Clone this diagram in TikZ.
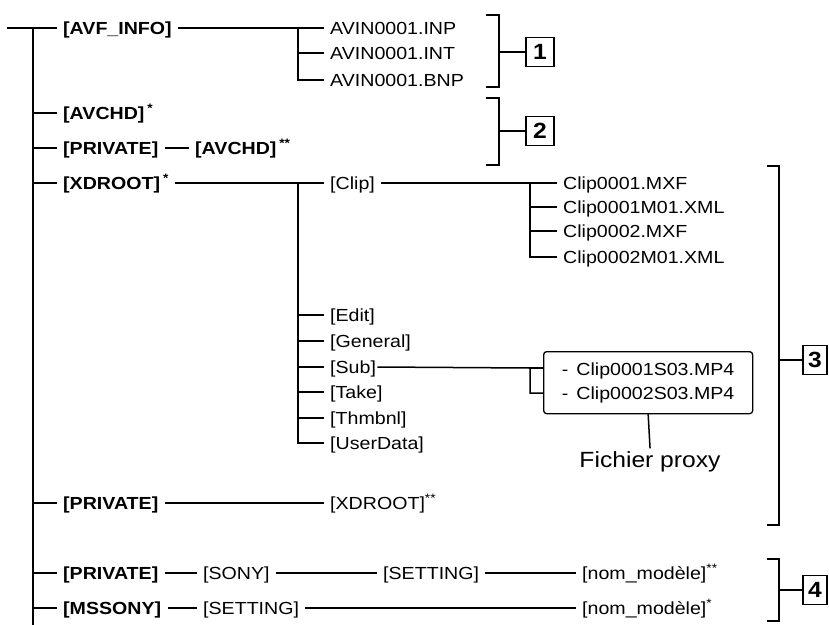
\documentclass[tikz,border=0pt]{standalone}
\usepackage{fontspec}
\setmainfont{Liberation Sans}[FakeStretch=1.12]
\usepackage{tikz}
\usetikzlibrary{positioning, calc}

\tikzset{
  tree/.style={line width=1.5pt, line cap=rect},
  dirb/.style={font=\bfseries\fontsize{17.5}{20}\selectfont, anchor=west,
    inner xsep=7pt, inner ysep=0pt, text height=12pt, text depth=0pt},
  dirn/.style={dirb, font=\fontsize{17.5}{20}\selectfont},
  numbox/.style={draw, line width=1.5pt, inner sep=0pt, minimum height=29pt,
    minimum width=28pt, font=\bfseries\fontsize{22}{22}\selectfont},
  bracket/.style={line width=1.5pt},
}

\begin{document}
\begin{tikzpicture}[x=1pt, y=-1pt]
  \useasboundingbox (0,0) rectangle (829,624);

  % trunk
  \coordinate (top) at (8,28);
  \coordinate (trunkTop) at (33,28);
  \coordinate (trunkBot) at (33,626);

  \node[dirb] (avf) at (56,28) {[AVF\_INFO]};
  \node[dirb] (avchd) at (56,113) {[AVCHD]\,\textsuperscript{*}};
  \node[dirb] (priv1) at (56,148) {[PRIVATE]};
  \node[dirb] (avchd2) at (188,148) {[AVCHD]\,\textsuperscript{**}};
  \node[dirb] (xdroot) at (56,183) {[XDROOT]\,\textsuperscript{*}};
  \node[dirb] (priv2) at (56,503) {[PRIVATE]};
  \node[dirn] (xdroot2) at (323,503) {[XDROOT]\textsuperscript{**}};
  \node[dirb] (priv3) at (56,573) {[PRIVATE]};
  \node[dirn] (sony) at (196,573) {[SONY]};
  \node[dirn] (set1) at (376,573) {[SETTING]};
  \node[dirn] (model1) at (575,573) {[nom\_modèle]\textsuperscript{**}};
  \node[dirb] (mssony) at (56,608) {[MSSONY]};
  \node[dirn] (set2) at (196,608) {[SETTING]};
  \node[dirn] (model2) at (575,608) {[nom\_modèle]\textsuperscript{*}};

  \draw[tree] (top) -- (avf.west);
  \draw[tree] (trunkTop) -- (trunkBot);
  \foreach \n in {avchd, priv1, xdroot, priv2, priv3, mssony}
    \draw[tree] (\n.west -| trunkTop) -- (\n.west);
  \draw[tree] (priv1) -- (avchd2);
  \draw[tree] (priv2) -- (xdroot2);
  \draw[tree] (priv3) -- (sony);
  \draw[tree] (sony) -- (set1);
  \draw[tree] (set1) -- (model1);
  \draw[tree] (mssony) -- (set2);
  \draw[tree] (set2) -- (model2);

  % AVF_INFO files
  \coordinate (jA) at (298,28);
  \foreach \y/\n/\t in {28/avin1/AVIN0001.INP, 53/avin2/AVIN0001.INT, 80/avin3/AVIN0001.BNP}
    \node[dirn] (\n) at (323,\y) {\t};
  \draw[tree] (avf) -- (jA) |- (avin3.west);
  \foreach \n in {avin1, avin2}
    \draw[tree] (\n.west -| jA) -- (\n.west);

  % XDROOT folders
  \coordinate (jX) at (298,183);
  \foreach \y/\n/\t in {183/clip/[Clip], 315/edit/[Edit], 341/gen/[General],
      367/sub/[Sub], 392/take/[Take], 418/thumb/[Thmbnl], 443/user/[UserData]}
    \node[dirn] (\n) at (323,\y) {\t};
  \draw[tree] (xdroot) -- (jX) |- (user.west);
  \foreach \n in {clip, edit, gen, sub, take, thumb}
    \draw[tree] (\n.west -| jX) -- (\n.west);

  % Clip files
  \coordinate (jC) at (530,183);
  \foreach \y/\n/\t in {183/cf1/Clip0001.MXF, 207/cf2/Clip0001M01.XML,
      231/cf3/Clip0002.MXF, 257/cf4/Clip0002M01.XML}
    \node[dirn] (\n) at (556,\y) {\t};
  \draw[tree] (clip) -- (jC) |- (cf4.west);
  \foreach \n in {cf1, cf2, cf3}
    \draw[tree] (\n.west -| jC) -- (\n.west);

  % proxy files
  \node[draw, line width=1.3pt, rounded corners=3pt, anchor=north west,
        minimum width=209pt, minimum height=62pt, inner xsep=5pt, align=left,
        font=\fontsize{17.5}{24}\selectfont] (proxy) at (543,351)
        {-\hspace{8pt}Clip0001S03.MP4\\-\hspace{8pt}Clip0002S03.MP4};
  \coordinate (jS) at (530,368);
  \draw[tree] (sub.east) ++(-5pt,0) -- (jS) |- ($(proxy.west |- jS)+(0,25)$);
  \draw[tree] (jS) -- (proxy.west |- jS);
  \node[font=\fontsize{22}{24}\selectfont, inner ysep=4pt] (fp) at (650,462) {Fichier proxy};
  \draw[tree] (proxy.south) -- (fp.north);

  % brackets
  \draw[bracket] (486,15) -- (499,15) -- (499,87) -- (486,87);
  \coordinate (b1) at (499,52);
  \node[numbox] (n1) at (540,52) {1};
  \draw[tree] (b1) -- (n1);

  \draw[bracket] (486,98) -- (499,98) -- (499,165) -- (486,165);
  \coordinate (b2) at (499,131);
  \node[numbox] (n2) at (540,131) {2};
  \draw[tree] (b2) -- (n2);

  \draw[bracket] (767,166) -- (779,166) -- (779,525) -- (767,525);
  \coordinate (b3) at (779,360);
  \node[numbox, minimum width=24pt] (n3) at (815,360) {3};
  \draw[tree] (b3) -- (n3);

  \draw[bracket] (767,559) -- (779,559) -- (779,621) -- (767,621);
  \coordinate (b4) at (779,590);
  \node[numbox, minimum width=24pt] (n4) at (815,590) {4};
  \draw[tree] (b4) -- (n4);
\end{tikzpicture}
\end{document}
